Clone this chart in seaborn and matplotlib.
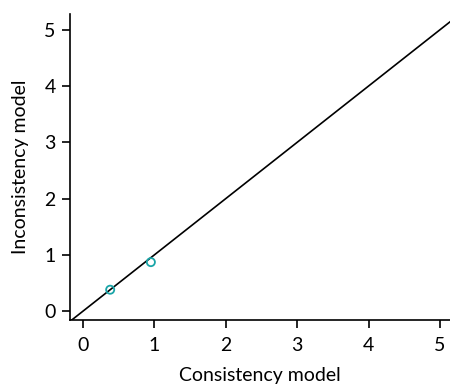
import numpy as np
import pandas as pd
import seaborn as sns
import matplotlib.pyplot as plt

# estimates from the two models
consistency = [0.38, 0.95]
inconsistency = [0.38, 0.87]
line_range = [-1, 6]

sns.set_style("ticks")
plt.rcParams['font.family'] = ['Lato', 'DejaVu Sans']
plt.rcParams['text.color'] = 'black'
plt.rcParams['axes.labelcolor'] = 'black'
plt.rcParams['xtick.color'] = 'black'
plt.rcParams['ytick.color'] = 'black'

df = pd.DataFrame({'Consistency model': consistency, 'Inconsistency model': inconsistency})

fig = plt.figure(figsize=(4.5, 3.88), dpi=100)
ax = fig.add_axes([0.156, 0.175, 0.844, 0.789])

ax.plot(line_range, line_range, color='black', lw=1.2, zorder=1)
sns.scatterplot(data=df, x='Consistency model', y='Inconsistency model', ax=ax,
                marker='o', s=34, facecolor='none', edgecolor='#1aa5a8', linewidth=1.3, zorder=2)

ax.set_xlim(-0.18, 5.14)
ax.set_ylim(-0.16, 5.28)
ax.set_xticks(range(6))
ax.set_yticks(range(6))
ax.tick_params(labelsize=14, length=5.5, width=1.2, color='black')
ax.tick_params(axis='x', pad=7)
ax.tick_params(axis='y', pad=5)
ax.set_xlabel('Consistency model', fontsize=14, labelpad=9)
ax.set_ylabel('Inconsistency model', fontsize=14, labelpad=11)
for s in ['top', 'right']:
    ax.spines[s].set_visible(False)
for s in ['left', 'bottom']:
    ax.spines[s].set_linewidth(1.2)
    ax.spines[s].set_color('black')

fig.savefig('out.png', dpi=100)
